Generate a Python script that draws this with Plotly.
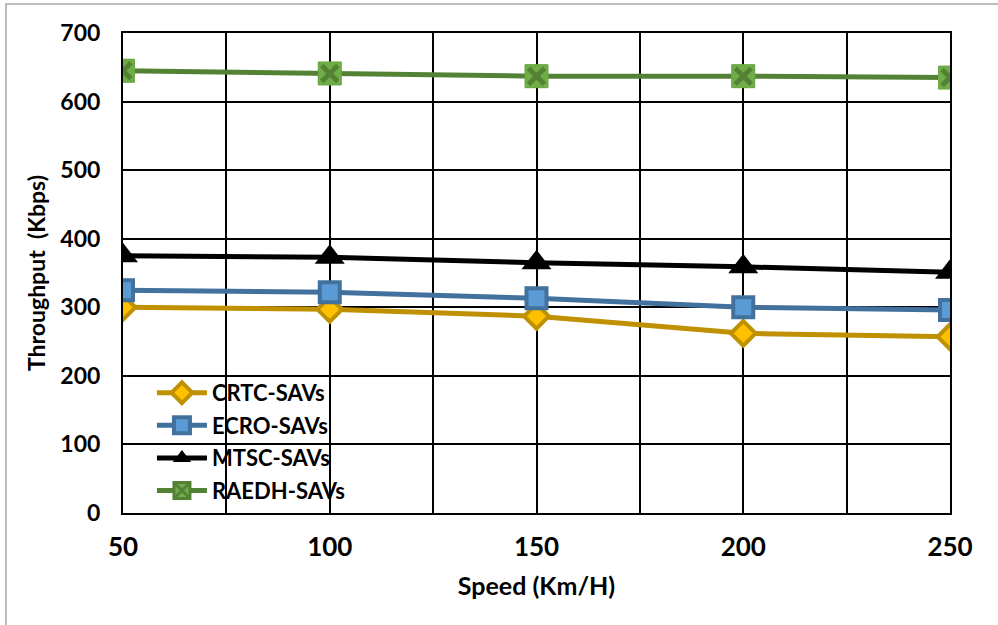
import plotly.graph_objects as go

# Throughput vs. vehicle speed for four clustering schemes
speed = [50, 100, 150, 200, 250]
crtc = [300, 297, 287, 262, 257]
ecro = [325, 322, 313, 300, 296]
mtsc = [375, 373, 365, 359, 351]
raedh = [645, 641, 637, 637, 635]

x_ticks = [50, 100, 150, 200, 250]
y_ticks = [0, 100, 200, 300, 400, 500, 600, 700]

FONT = "Lato"

fig = go.Figure()

fig.add_trace(go.Scatter(
    x=speed, y=crtc, name="CRTC-SAVs", mode="lines+markers", legendgroup="a",
    line=dict(color="#BF9000", width=5),
    marker=dict(symbol="diamond", size=19, color="#FFC000",
                line=dict(color="#BF9000", width=4)),
))
fig.add_trace(go.Scatter(
    x=speed, y=ecro, name="ECRO-SAVs", mode="lines+markers", legendgroup="b",
    line=dict(color="#41719C", width=5),
    marker=dict(symbol="square", size=20, color="#5B9BD5",
                line=dict(color="#41719C", width=4)),
))
fig.add_trace(go.Scatter(
    x=speed, y=mtsc, name="MTSC-SAVs", mode="lines+markers", legendgroup="c",
    line=dict(color="#000000", width=5),
    marker=dict(symbol="triangle-up", size=26, color="#000000"),
))
fig.add_trace(go.Scatter(
    x=speed, y=raedh, name="RAEDH-SAVs", mode="lines+markers", legendgroup="d",
    line=dict(color="#548235", width=5),
    marker=dict(symbol="square-x", size=20, color="#70AD47",
                line=dict(color="#548235", width=3)),
))
# lighter square body and dark cross for the RAEDH markers on the plot
fig.add_trace(go.Scatter(
    x=speed, y=raedh, mode="markers", showlegend=False, hoverinfo="skip",
    marker=dict(symbol="square", size=23, color="#70AD47",
                line=dict(color="#6AA843", width=1)),
))
fig.add_trace(go.Scatter(
    x=speed, y=raedh, mode="markers", showlegend=False, hoverinfo="skip",
    marker=dict(symbol="x-thin", size=16, color="#548235",
                line=dict(color="#548235", width=5)),
))

fig.update_layout(
    width=998, height=625,
    margin=dict(l=123, r=48, t=33, b=112),
    paper_bgcolor="white", plot_bgcolor="white",
    showlegend=True,
    legend=dict(
        x=0.035, y=0.294, xanchor="left", yanchor="top",
        bgcolor="rgba(0,0,0,0)", itemwidth=50,
        font=dict(family=FONT, size=22, color="#000000", weight="bold"),
        tracegroupgap=1,
    ),
    shapes=[dict(
        type="rect", xref="paper", yref="paper",
        x0=-0.1415, x1=1.3, y0=-0.5, y1=1.0604,
        line=dict(color="#A6A6A6", width=1.5), layer="below",
    )],
)

fig.update_xaxes(
    range=[50, 250], tickvals=x_ticks, ticktext=[str(v) for v in x_ticks],
    showgrid=True, gridcolor="#000000", gridwidth=1,
    minor=dict(dtick=25, tick0=50, showgrid=True, gridcolor="#000000", gridwidth=2),
    showline=True, linecolor="#000000", linewidth=2, mirror=True,
    ticks="", ticklabelstandoff=10, zeroline=False,
    tickfont=dict(family=FONT, size=26, color="#000000", weight="bold"),
    title=dict(text="Speed (Km/H)", standoff=16,
               font=dict(family=FONT, size=25, color="#000000", weight="bold")),
)
fig.update_yaxes(
    range=[0, 700], tickvals=y_ticks,
    showgrid=True, gridcolor="#000000", gridwidth=1.8,
    showline=True, linecolor="#000000", linewidth=2, mirror=True,
    ticks="", ticklabelstandoff=16, zeroline=False,
    tickfont=dict(family=FONT, size=23, color="#000000", weight="bold"),
    title=dict(text="Throughput  (Kbps)", standoff=8,
               font=dict(family=FONT, size=23, color="#000000", weight="bold")),
)

fig.write_html("out.html")
